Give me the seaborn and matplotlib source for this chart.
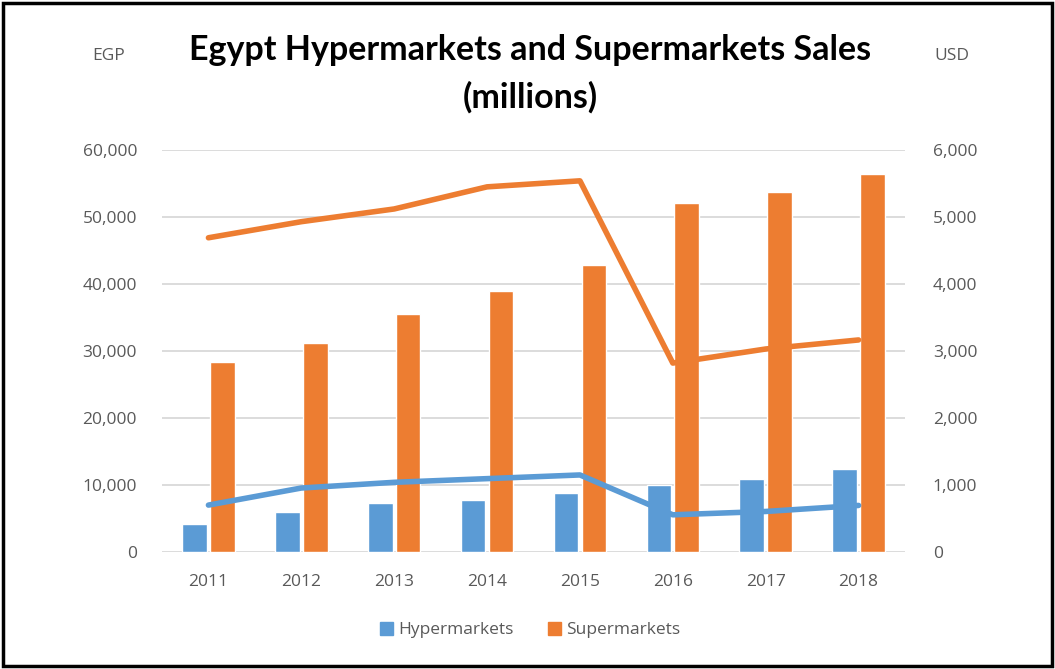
import matplotlib
matplotlib.use("Agg")
import matplotlib.pyplot as plt
import seaborn as sns
import pandas as pd
import numpy as np
from matplotlib.patches import Rectangle
from matplotlib.ticker import FuncFormatter

years = ["2011", "2012", "2013", "2014", "2015", "2016", "2017", "2018"]
hyper_egp = [4200, 6000, 7250, 7800, 8850, 10050, 10950, 12400]
super_egp = [28400, 31200, 35500, 39000, 42900, 52150, 53700, 56400]
hyper_usd = [700, 955, 1040, 1095, 1150, 555, 605, 695]
super_usd = [4690, 4930, 5120, 5450, 5540, 2820, 3030, 3165]

BLUE = "#5B9BD5"
ORANGE = "#ED7D31"
GRAY = "#595959"
TS = 12.5

sns.set_theme(style="white")
plt.rcParams["font.family"] = ["Open Sans", "DejaVu Sans"]

df = pd.DataFrame({
    "year": years * 2,
    "value": hyper_egp + super_egp,
    "series": ["Hypermarkets"] * 8 + ["Supermarkets"] * 8,
})

fig = plt.figure(figsize=(10.55, 6.69), dpi=100)
ax = fig.add_axes([162 / 1055, 1 - 552 / 669, (905 - 162) / 1055, (552 - 150) / 669])

sns.barplot(data=df, x="year", y="value", hue="series",
            palette=[BLUE, ORANGE], width=0.6, gap=0.12, saturation=1,
            ax=ax, legend=False, zorder=2)
ax.set_xlim(-0.5, 7.5)
ax.set_ylim(0, 60000)
ax.set_yticks(range(0, 60001, 10000))
ax.yaxis.set_major_formatter(FuncFormatter(lambda v, p: f"{int(v):,}"))
ax.grid(axis="y", color="#D9D9D9", linewidth=1.3, zorder=0)
ax.set_axisbelow(True)
for s in ax.spines.values():
    s.set_visible(False)
ax.set_xlabel("")
ax.set_ylabel("")
ax.tick_params(axis="both", length=0, colors=GRAY, labelsize=TS)
ax.tick_params(axis="y", pad=18)
ax.tick_params(axis="x", pad=16)

ax2 = ax.twinx()
x = np.arange(len(years))
sns.lineplot(x=x, y=hyper_usd, color=BLUE, linewidth=4, ax=ax2, zorder=5,
             solid_capstyle="round")
sns.lineplot(x=x, y=super_usd, color=ORANGE, linewidth=4, ax=ax2, zorder=5,
             solid_capstyle="round")
ax2.set_ylim(0, 6000)
ax2.set_yticks(range(0, 6001, 1000))
ax2.yaxis.set_major_formatter(FuncFormatter(lambda v, p: f"{int(v):,}"))
for s in ax2.spines.values():
    s.set_visible(False)
ax2.tick_params(axis="y", length=0, colors=GRAY, labelsize=TS, pad=20)
ax2.grid(False)
ax2.set_xlim(-0.5, 7.5)

fig.text(530 / 1055, 1 - 50 / 669, "Egypt Hypermarkets and Supermarkets Sales",
         ha="center", va="center", fontsize=24.5, fontweight="bold",
         family=["Lato", "DejaVu Sans"], color="black")
fig.text(530 / 1055, 1 - 97 / 669, "(millions)",
         ha="center", va="center", fontsize=24.5, fontweight="bold",
         family=["Lato", "DejaVu Sans"], color="black")
fig.text(109 / 1055, 1 - 56 / 669, "EGP", ha="center", va="center",
         fontsize=TS, color=GRAY)
fig.text(952 / 1055, 1 - 56 / 669, "USD", ha="center", va="center",
         fontsize=TS, color=GRAY)

handles = [Rectangle((0, 0), 1, 1, color=BLUE), Rectangle((0, 0), 1, 1, color=ORANGE)]
fig.legend(handles, ["Hypermarkets", "Supermarkets"], loc="center",
           bbox_to_anchor=(530 / 1055, 1 - 630 / 669), ncol=2, frameon=False,
           fontsize=TS, labelcolor=GRAY, handlelength=0.75, handleheight=0.75,
           handletextpad=0.3, columnspacing=2.0)

fig.patches.append(Rectangle((0.003, 0.004), 0.994, 0.992, transform=fig.transFigure,
                             fill=False, edgecolor="black", linewidth=2.5))

fig.savefig("out.png", dpi=100, facecolor="white")
